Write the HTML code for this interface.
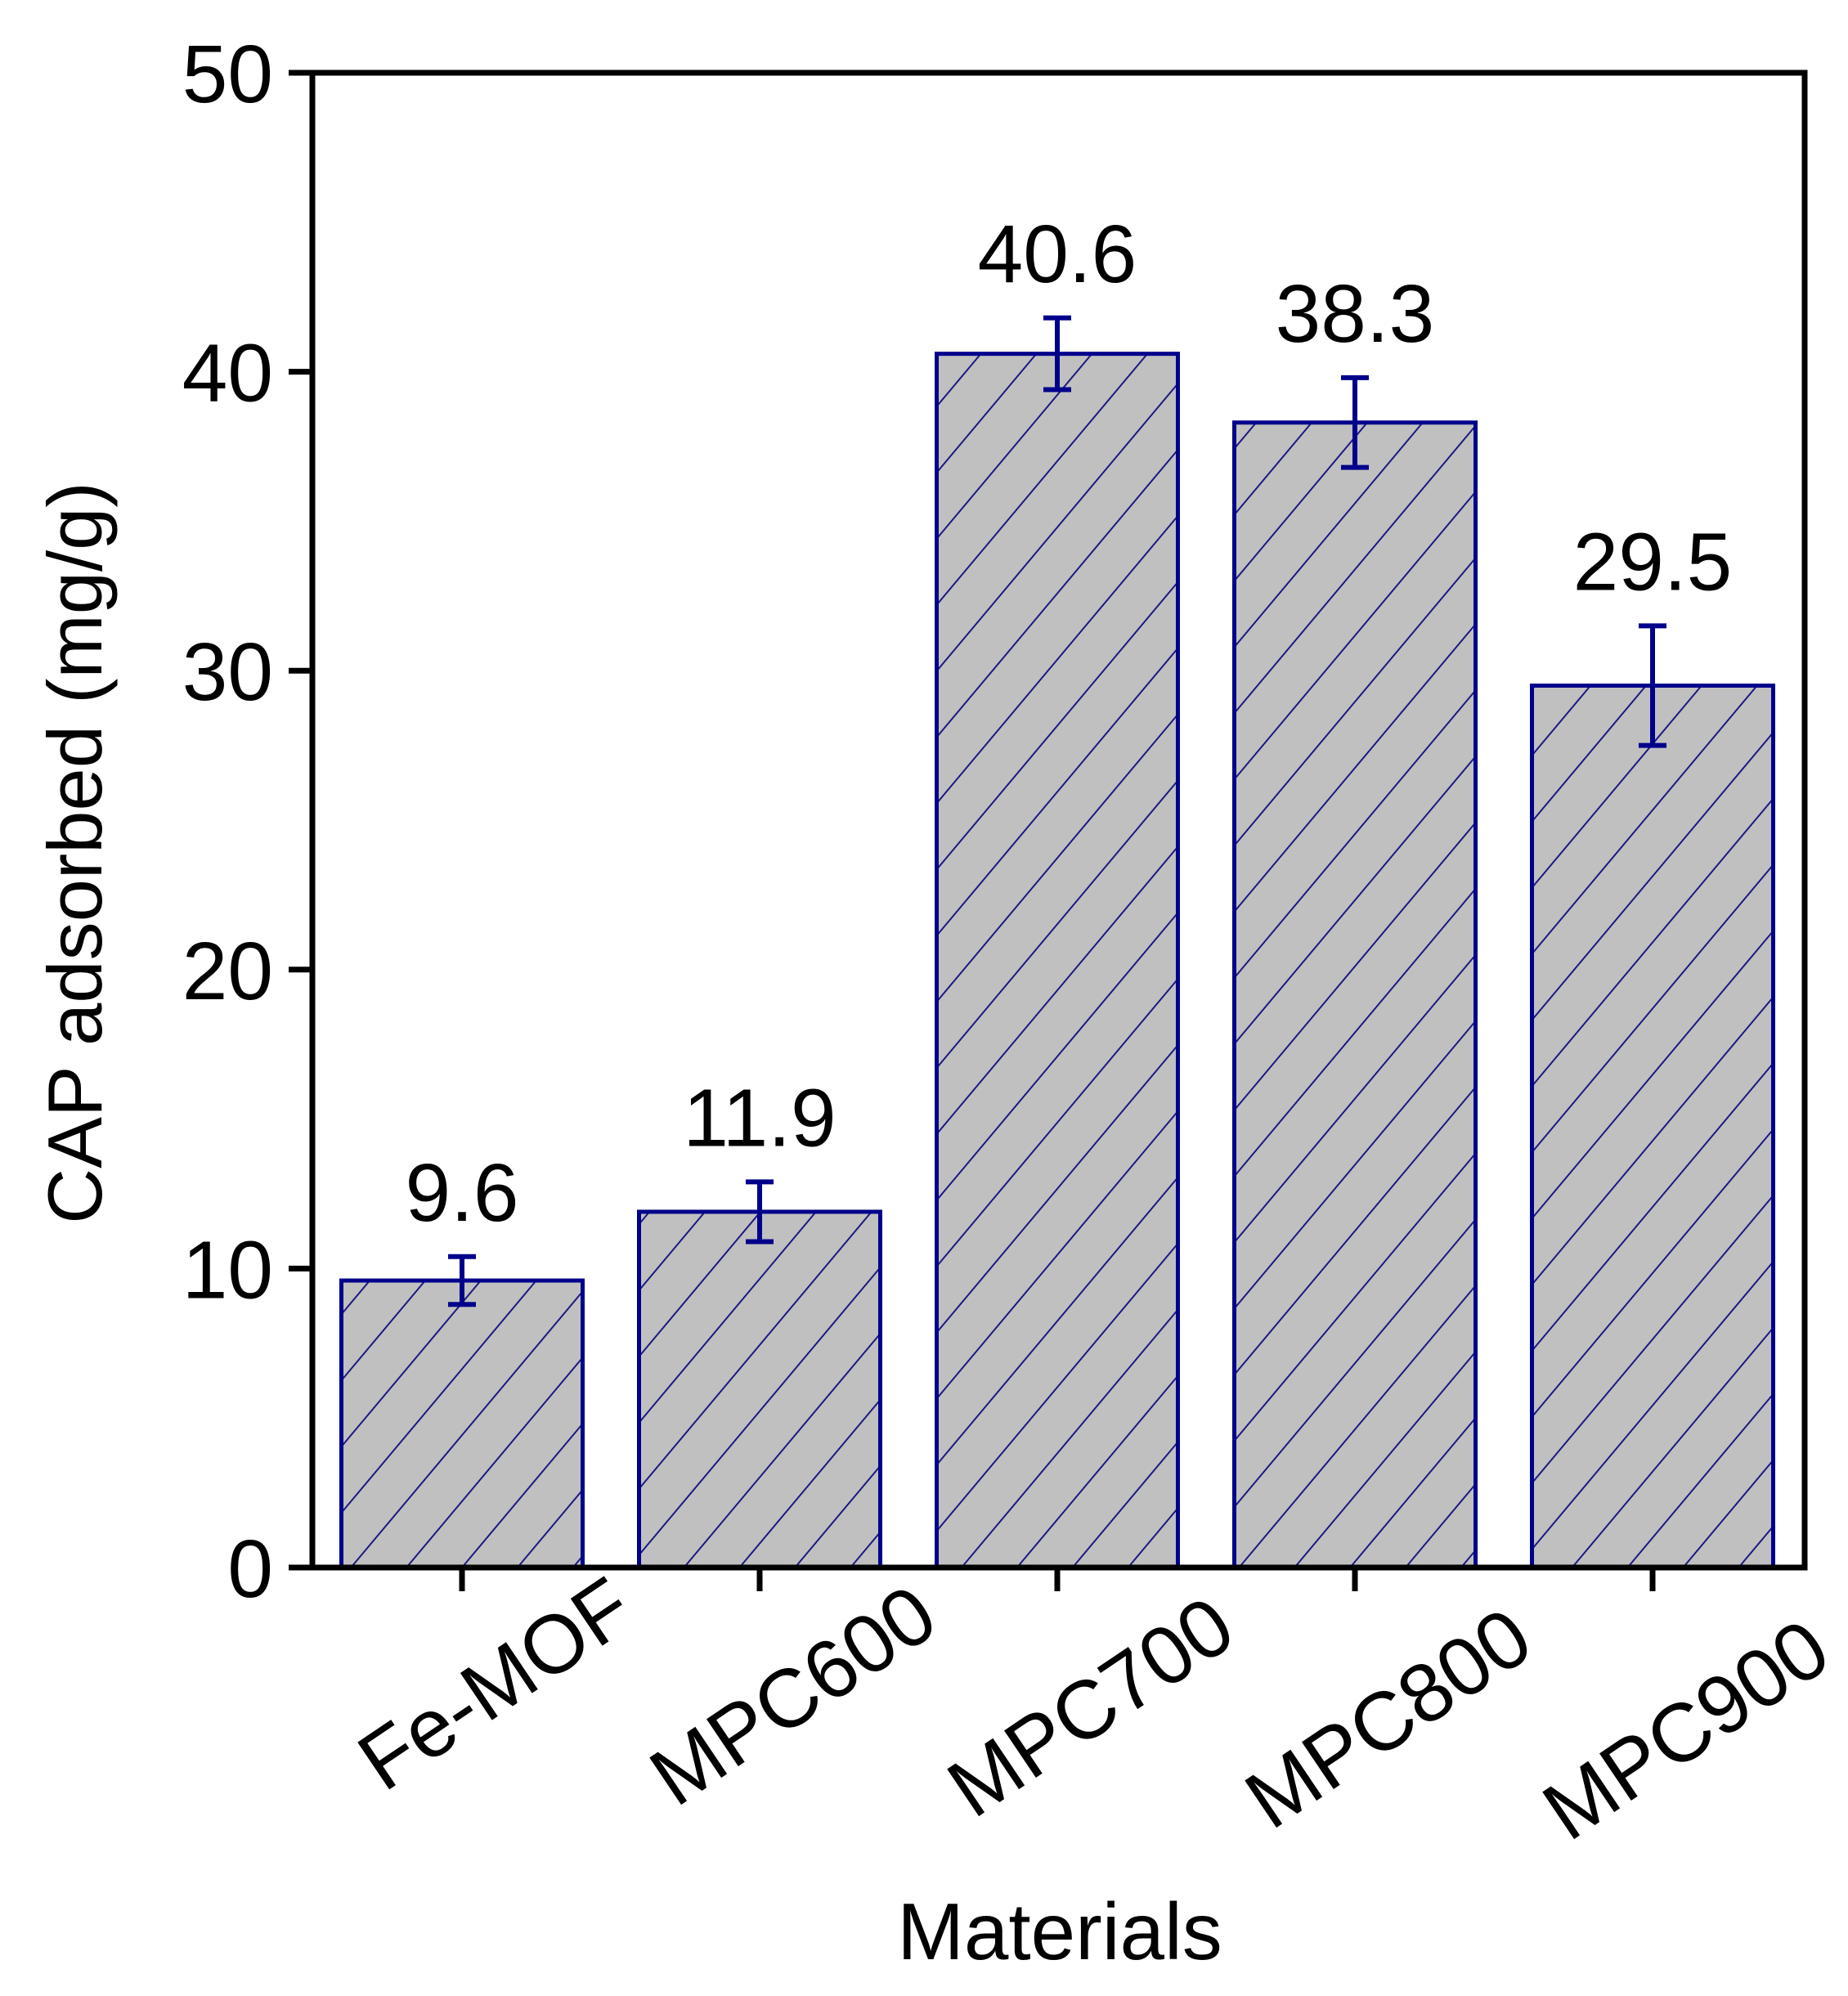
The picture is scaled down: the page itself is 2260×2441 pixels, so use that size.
<!DOCTYPE html>
<html><head><meta charset="utf-8"><style>
html,body{margin:0;padding:0;background:#fff;}
svg text{font-family:"Liberation Sans",Arial,sans-serif;fill:#000;}
</style></head><body>
<svg id="chart" xmlns="http://www.w3.org/2000/svg" width="2260" height="2436" viewBox="0 0 2260 2436">
<defs>
<pattern id="hatch" patternUnits="userSpaceOnUse" width="52" height="52" patternTransform="rotate(40)">
<rect width="52" height="52" fill="#c0c0c0"/>
<line x1="0" y1="0" x2="0" y2="52" stroke="#1a1a80" stroke-width="4"/>
</pattern>
</defs>
<g id="plot"></g>
</svg>
<script>
const categories = ["Fe-MOF","MPC600","MPC700","MPC800","MPC900"];
const values = [9.6, 11.9, 40.6, 38.3, 29.5];
const errors = [0.8, 1.0, 1.2, 1.5, 2.0];
const valueLabels = ["9.6","11.9","40.6","38.3","29.5"];
const yTicks = [0,10,20,30,40,50];

const NS="http://www.w3.org/2000/svg";
const L=382,R=2207,T=89,B=1917;
const yMin=0,yMax=50;
const x0=565, step=364, barW=295;
function yScale(v){return B-(v-yMin)/(yMax-yMin)*(B-T);}
function xScale(i){return x0+i*step;}
const g=document.getElementById('plot');
function mk(tag,attrs){const e=document.createElementNS(NS,tag);for(const k in attrs)e.setAttribute(k,attrs[k]);g.appendChild(e);return e;}

categories.forEach((c,i)=>{
  const cx=xScale(i), v=values[i], e=errors[i];
  const bar=mk('rect',{x:cx-barW/2,y:yScale(v),width:barW,height:B-yScale(v),fill:'url(#hatch)',stroke:'#00008b','stroke-width':5});
  
  
  const eb=mk('path',{d:`M${cx},${yScale(v+e)}V${yScale(v-e)}M${cx-17},${yScale(v+e)}H${cx+17}M${cx-17},${yScale(v-e)}H${cx+17}`,stroke:'#00008b','stroke-width':6,fill:'none'});
  
  
  const vl=mk('text',{x:cx,y:yScale(v+e)-44,'font-size':100,'text-anchor':'middle'});
  vl.textContent=valueLabels[i];
  
  
  const tk=mk('line',{x1:cx,y1:B,x2:cx,y2:B+29,stroke:'#000','stroke-width':7});
  
  
  const lx=cx+40, ly=2058+i*14;
  const xl=mk('text',{x:lx,y:ly+36,'font-size':101,'text-anchor':'middle',transform:`rotate(-34 ${lx} ${ly})`});
  xl.textContent=c;
  
  
});

yTicks.forEach(t=>{
  const y=yScale(t);
  const tk=mk('line',{x1:L-29,y1:y,x2:L,y2:y,stroke:'#000','stroke-width':7});
  
  
  const tl=mk('text',{x:334,y:y+36,'font-size':100,'text-anchor':'end'});
  tl.textContent=t;
  
  
});

const frame=mk('rect',{x:L,y:T,width:R-L,height:B-T,fill:'none',stroke:'#000','stroke-width':7});



const yt=mk('text',{x:124,y:1043,'font-size':94,'text-anchor':'middle',transform:'rotate(-90 124 1043)'});
yt.textContent='CAP adsorbed (mg/g)';



const xt=mk('text',{x:1296,y:2396,'font-size':98,'text-anchor':'middle'});
xt.textContent='Materials';


</script>
</body></html>
